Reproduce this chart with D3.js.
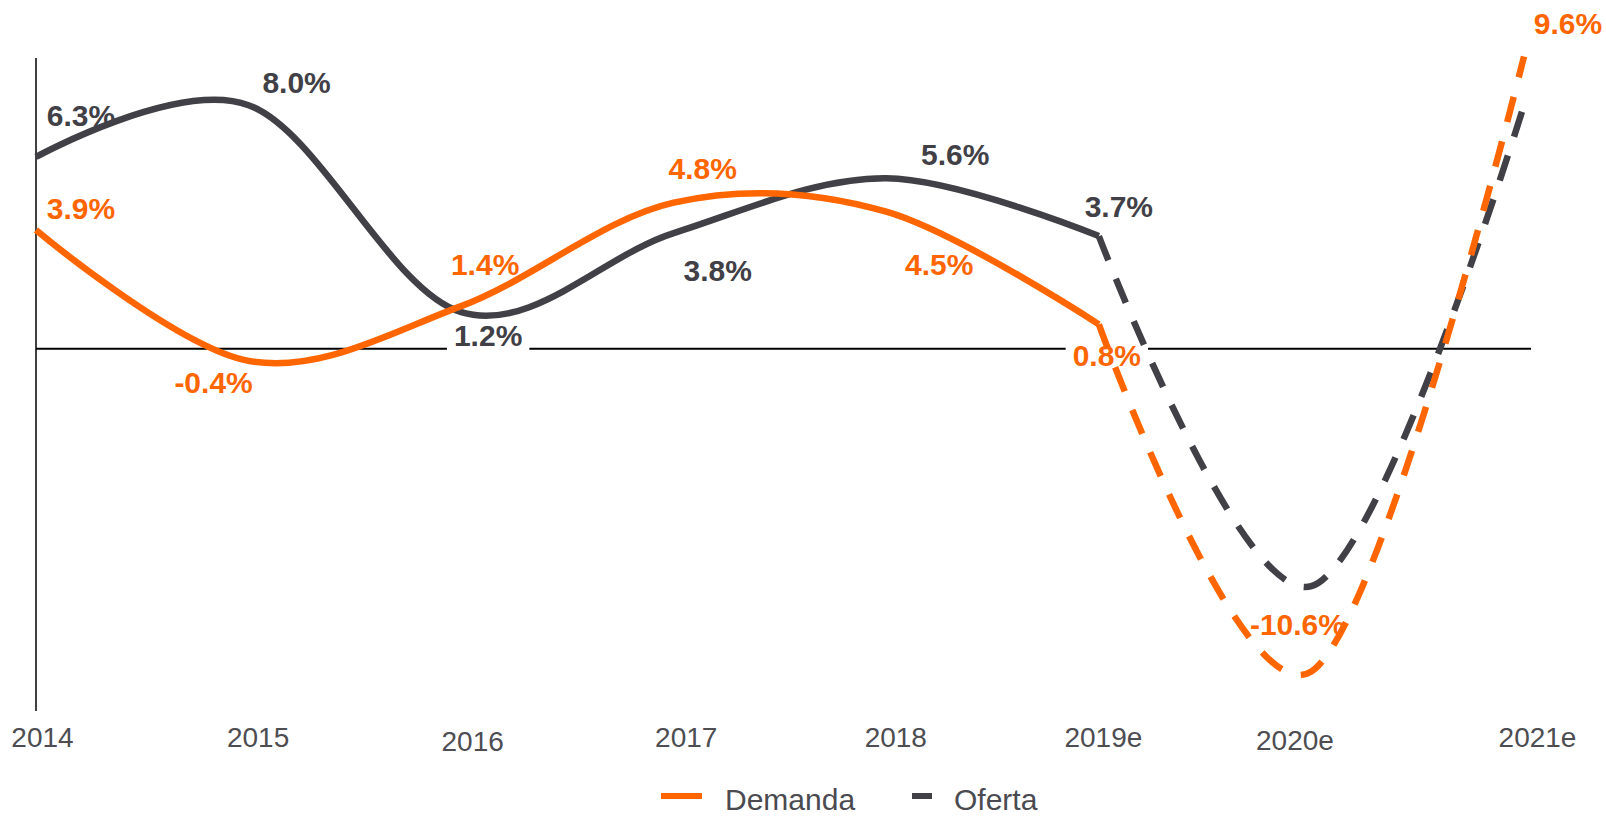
<!DOCTYPE html>
<html>
<head>
<meta charset="utf-8">
<script src="https://cdn.jsdelivr.net/npm/d3@7"></script>
<style>
  body { margin: 0; background: #fff; }
  svg { display: block; }
</style>
</head>
<body>
<svg id="chart" width="1606" height="816"></svg>
<script>
// DATA
const years = ["2014", "2015", "2016", "2017", "2018", "2019e", "2020e", "2021e"];
const demanda = [3.9, -0.4, 1.4, 4.8, 4.5, 0.8, -10.6, 9.6];
const oferta = [6.3, 8.0, 1.2, 3.8, 5.6, 3.7, -7.8, 8.0];
const ofertaLabelled = 6; // only first 6 oferta points carry a label
const lastActual = 5; // index of 2019e, solid before, dashed after

// label placement (relative to the point: centre x, baseline y)
const demandaOff = [[45, -11], [-35, 32], [24, -31], [29, -24], [53, 63], [8, 42], [-14, -36], [44, -22]];
const ofertaOff = [[45, -31], [48, -12], [27, 34], [44, 48], [69, -13], [20, -19]];
// tick label nudges [dx, dy]
const tickOff = [[6, 0], [9, 0], [11, 4], [12, 0], [9, 0], [4, 0], [-17, 3], [13, 0]];

const orange = "#ff6600";
const grey = "#414046";
const font = "'Liberation Sans', Arial, Helvetica, sans-serif";

const svg = d3.select("#chart");

const x = d3.scalePoint().domain(years).range([36, 1524]);
const y = d3.scaleLinear().domain([-11.9, 9.55]).range([711, 58]);

// zero line + vertical axis
svg.append("line")
  .attr("x1", x(years[0])).attr("x2", x(years[years.length - 1]) + 7)
  .attr("y1", y(0)).attr("y2", y(0))
  .attr("stroke", "#000").attr("stroke-width", 2);
svg.append("line")
  .attr("x1", x(years[0])).attr("x2", x(years[0]))
  .attr("y1", y.range()[1]).attr("y2", y.range()[0])
  .attr("stroke", "#000").attr("stroke-width", 1.5);

// x axis labels
const xAxis = svg.append("g")
  .attr("transform", "translate(0,747)")
  .call(d3.axisBottom(x).tickSize(0));
xAxis.select(".domain").remove();
xAxis.selectAll("text")
  .attr("x", (d, i) => tickOff[i][0])
  .attr("y", (d, i) => tickOff[i][1])
  .attr("dy", 0)
  .attr("fill", "#4d4d52")
  .style("font-family", font)
  .style("font-size", "28px");

const boxLayer = svg.append("g");
const lineLayer = svg.append("g");
const labelLayer = svg.append("g");

const line = d3.line()
  .x((d) => x(years[d.i]))
  .y((d) => y(d.v))
  .curve(d3.curveCardinal);

function DrawSeries(values, color) {
  let pts = values.map((v, i) => ({ i: i, v: v }));
  lineLayer.append("path")
    .datum(pts.slice(0, lastActual + 1))
    .attr("d", line)
    .attr("fill", "none")
    .attr("stroke", color)
    .attr("stroke-width", 6.5);
  lineLayer.append("path")
    .datum(pts.slice(lastActual))
    .attr("d", line)
    .attr("fill", "none")
    .attr("stroke", color)
    .attr("stroke-width", 6.5)
    .attr("stroke-dasharray", "26,20");
}

function DrawLabels(values, offsets, color) {
  offsets.forEach((off, i) => {
    let t = labelLayer.append("text")
      .attr("x", x(years[i]) + off[0])
      .attr("y", y(values[i]) + off[1])
      .attr("text-anchor", "middle")
      .attr("fill", color)
      .style("font-family", font)
      .style("font-size", "30px")
      .style("font-weight", "bold")
      .text(values[i].toFixed(1) + "%");
    let bb = t.node().getBBox();
    boxLayer.append("rect")
      .attr("x", bb.x - 7).attr("y", bb.y)
      .attr("width", bb.width + 14).attr("height", bb.height)
      .attr("fill", "#fff");
  });
}

DrawSeries(oferta, grey);
DrawSeries(demanda, orange);
DrawLabels(oferta, ofertaOff.slice(0, ofertaLabelled), grey);
DrawLabels(demanda, demandaOff, orange);

// legend
const legend = svg.append("g").attr("transform", "translate(661,810)");
legend.append("rect").attr("x", 0).attr("y", -17).attr("width", 41).attr("height", 6).attr("fill", orange);
legend.append("text").attr("x", 64).attr("y", 0).text("Demanda");
legend.append("rect").attr("x", 251).attr("y", -17).attr("width", 20).attr("height", 6).attr("fill", grey);
legend.append("text").attr("x", 293).attr("y", 0).text("Oferta");
legend.selectAll("text")
  .attr("fill", "#4a4a50")
  .style("font-family", font)
  .style("font-size", "30px");
</script>
</body>
</html>
